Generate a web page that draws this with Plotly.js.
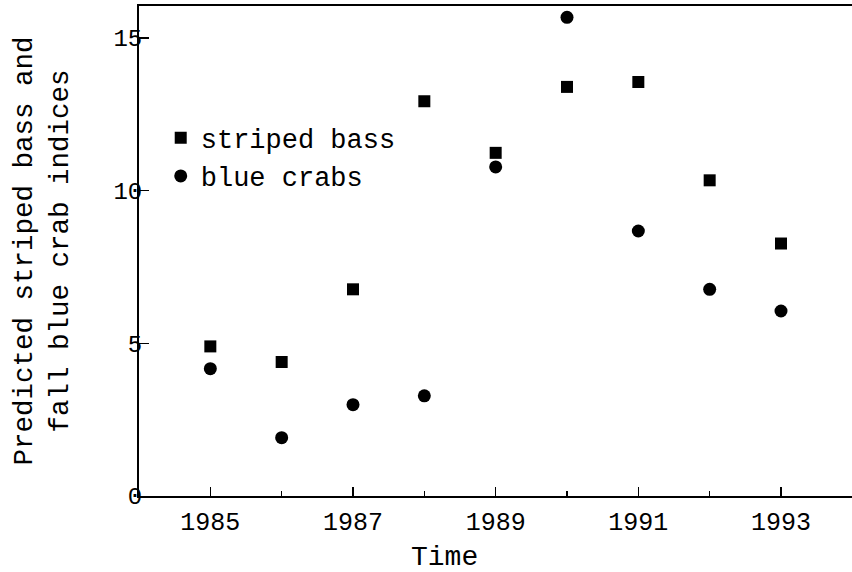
<!DOCTYPE html>
<html>
<head>
<meta charset="utf-8">
<script src="https://cdn.plot.ly/plotly-3.0.1.min.js"></script>
<style>
html, body { margin: 0; padding: 0; background: #fff; overflow: hidden; }
#wrap { width: 852px; height: 572px; overflow: hidden; position: relative; }
#chart { width: 888px; height: 572px; }
</style>
</head>
<body>
<div id="wrap"><div id="chart"></div></div>
<script>
const years = [1985, 1986, 1987, 1988, 1989, 1990, 1991, 1992, 1993];
const stripedBass = [4.90, 4.39, 6.77, 12.93, 11.24, 13.40, 13.56, 10.34, 8.27];
const blueCrabs = [4.17, 1.91, 2.99, 3.28, 10.78, 15.68, 8.68, 6.77, 6.06];
const xTickVals = [1985, 1987, 1989, 1991, 1993];
const xTickText = ['1985', '1987', '1989', '1991', '1993'];
const yTickVals = [0, 5, 10, 15];
const yTickText = ['0', '5', '10', '15'];

const FONT = 'Liberation Mono, Courier New, monospace';

const traces = [
  {
    x: years, y: stripedBass, name: 'striped bass', type: 'scatter', mode: 'markers',
    marker: { symbol: 'square', size: 12, color: '#000' }
  },
  {
    x: years, y: blueCrabs, name: 'blue crabs', type: 'scatter', mode: 'markers',
    marker: { symbol: 'circle', size: 13, color: '#000' }
  }
];

const layout = {
  width: 888, height: 572,
  margin: { l: 139, r: 0, t: 6, b: 76 },
  paper_bgcolor: '#fff', plot_bgcolor: '#fff',
  font: { family: FONT, color: '#000', size: 22 },
  showlegend: true,
  legend: {
    x: 0.029, y: 0.78, xanchor: 'left', yanchor: 'top',
    font: { family: FONT, size: 27, color: '#000' },
    bgcolor: 'rgba(0,0,0,0)', tracegroupgap: 0
  },
  xaxis: {
    range: [1984, 1994.5], showgrid: false, zeroline: false,
    showline: true, linecolor: '#000', linewidth: 2, mirror: true,
    ticks: 'inside', ticklen: 9, tickwidth: 1.5, tickcolor: '#000',
    tickvals: xTickVals, ticktext: xTickText, ticklabelstandoff: 2,
    tickfont: { family: FONT, size: 25, color: '#000' },
    minor: { dtick: 1, tick0: 1984, ticks: 'inside', ticklen: 5, tickwidth: 1.2, tickcolor: '#000', showgrid: false }
  },
  yaxis: {
    range: [0, 16.05], showgrid: false, zeroline: false,
    showline: true, linecolor: '#000', linewidth: 2, mirror: false,
    ticks: 'inside', ticklen: 10, tickwidth: 1.5, tickcolor: '#000',
    tickvals: yTickVals, ticktext: yTickText, ticklabelstandoff: -10,
    tickfont: { family: FONT, size: 24, color: '#000' },
    title: {
      text: 'Predicted striped bass and<br>fall blue crab indices',
      font: { family: FONT, size: 27.5, color: '#000' },
      standoff: 37
    }
  },
  annotations: [
    {
      text: 'Time', xref: 'paper', yref: 'paper', x: (444 - 139) / 749, y: -0.1245,
      xanchor: 'center', yanchor: 'middle', showarrow: false,
      font: { family: FONT, size: 28, color: '#000' }
    }
  ]
};

Plotly.newPlot('chart', traces, layout, { displayModeBar: false, staticPlot: true });
</script>
</body>
</html>
